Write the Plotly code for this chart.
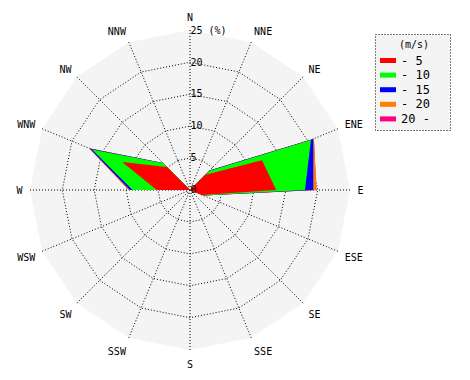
import numpy as np
import plotly.graph_objects as go

directions = ["N", "NNE", "NE", "ENE", "E", "ESE", "SE", "SSE",
              "S", "SSW", "SW", "WSW", "W", "WNW", "NW", "NNW"]
speed_labels = ["- 5", "- 10", "- 15", "- 20", "20 -"]
colors = ["#ff0000", "#00ff00", "#0000ff", "#ff8000", "#ff0080"]

# frequency (%) per speed class and direction (not cumulative)
f_5 = [0, 0, 3.4, 12.2, 13.5, 2.0, 0, 0, 0, 0, 0, 0, 5.2, 11.5, 5.1, 0]
f_10 = [0, 0, 0.8, 8.3, 4.5, 0.2, 0, 0, 0, 0, 0, 0, 3.8, 5.1, 0.8, 0]
f_15 = [0, 0, 0.1, 0.4, 1.3, 0.1, 0, 0, 0, 0, 0, 0, 0.4, 0.4, 0.1, 0]
f_20 = [0, 0, 0.0, 0.1, 0.5, 0.0, 0, 0, 0, 0, 0, 0, 0.2, 0.1, 0.0, 0]
f_over = [0, 0, 0, 0, 0, 0, 0, 0, 0, 0, 0, 0, 0, 0, 0, 0]

radial_ticks = [0, 5, 10, 15, 20, 25]
radial_text = ["0", "5", "10", "15", "20", "25 (%)"]

classes = [f_5, f_10, f_15, f_20, f_over]
cum = np.cumsum(np.array(classes, dtype=float), axis=0)

W, H = 470, 380
OFF = 8  # page body margin in the browser
FONT = "DejaVu Sans Mono"


def px(x):
    return (x - OFF) / W


def py(y):
    return 1 - (y - OFF) / H


fig = go.Figure()
for k in range(len(classes) - 1, -1, -1):
    r = list(cum[k]) + [cum[k][0]]
    th = directions + [directions[0]]
    fig.add_trace(go.Scatterpolar(
        r=r, theta=th, mode="lines", fill="toself",
        fillcolor=colors[k], line=dict(width=0, color=colors[k]),
        name=speed_labels[k], showlegend=False, hoverinfo="skip"))

fig.update_layout(
    width=W, height=H,
    margin=dict(l=0, r=0, t=0, b=0),
    paper_bgcolor="white",
    font=dict(family=FONT, size=10, color="black"),
    polar=dict(
        domain=dict(x=[px(30), px(350)], y=[py(350), py(30)]),
        bgcolor="#f4f4f4",
        gridshape="linear",
        radialaxis=dict(
            range=[0, 25.05], tickmode="array", tickvals=radial_ticks,
            ticktext=radial_text, angle=90, tickangle=90,
            side="clockwise",
            showline=False, ticks="", gridcolor="black",
            griddash="1px,2px", gridwidth=1, layer="above traces",
            tickfont=dict(family=FONT, size=10, color="black")),
        angularaxis=dict(
            type="category", categoryorder="array", categoryarray=directions,
            direction="clockwise", rotation=90,
            showline=False, ticks="outside", ticklen=5,
            tickcolor="rgba(0,0,0,0)", gridcolor="black",
            griddash="1px,2px", gridwidth=1, layer="above traces",
            tickfont=dict(family=FONT, size=10, color="black")),
    ),
)

# legend box (manual)
fig.add_shape(type="rect", xref="paper", yref="paper",
              x0=px(375.5), x1=px(450.5), y0=py(34.5), y1=py(130.5),
              fillcolor="#f4f4f4", line=dict(color="black", width=1, dash="1px,2px"))
fig.add_annotation(xref="paper", yref="paper", x=px(414), y=py(45),
                   text="(m/s)", showarrow=False, xanchor="center", yanchor="middle",
                   font=dict(family=FONT, size=10, color="black"))
for i, (lab, col) in enumerate(zip(speed_labels, colors)):
    yc = 60.5 + 14.6 * i
    fig.add_shape(type="rect", xref="paper", yref="paper",
                  x0=px(380), x1=px(396), y0=py(yc - 2.5), y1=py(yc + 2.5),
                  fillcolor=col, line=dict(width=0))
    fig.add_annotation(xref="paper", yref="paper", x=px(399), y=py(yc),
                       text=lab, showarrow=False, xanchor="left", yanchor="middle",
                       font=dict(family=FONT, size=12, color="black"))

fig.write_html("out.html")
